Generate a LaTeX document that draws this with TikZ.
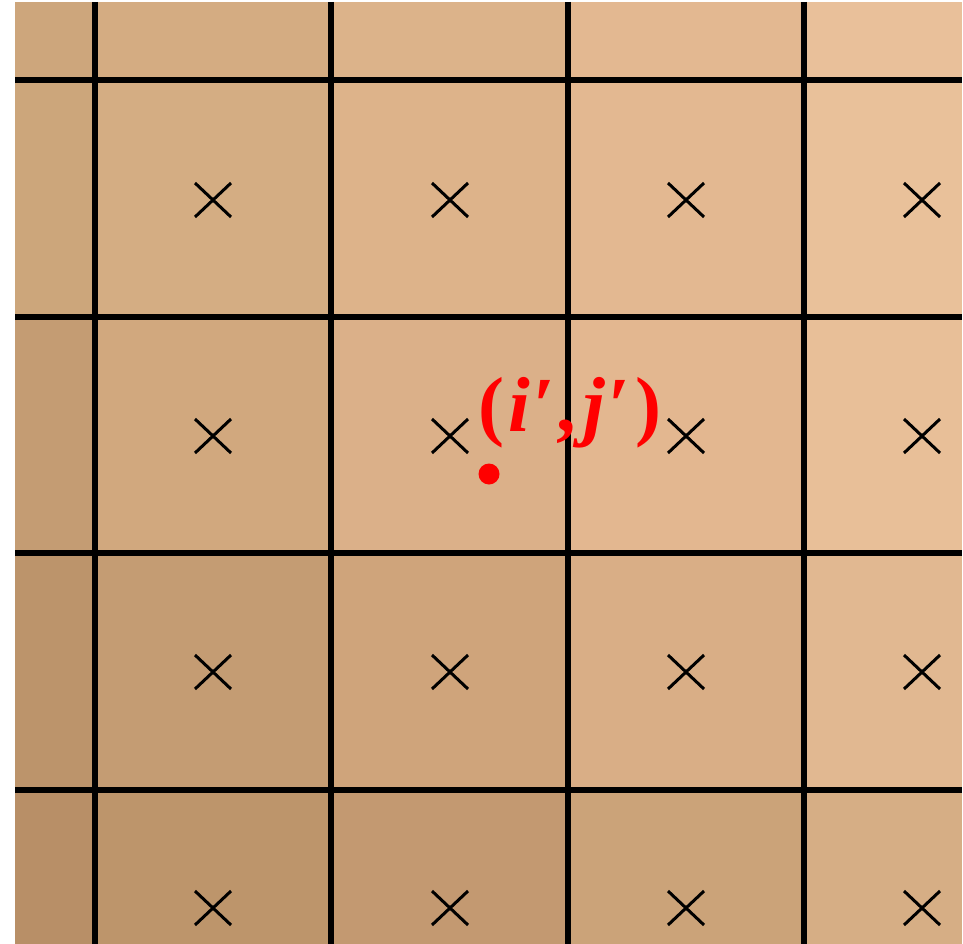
\documentclass[tikz,border=0pt]{standalone}
\usepackage{fontspec}
\setmainfont{Liberation Serif}
\begin{document}
\begin{tikzpicture}[x=1pt,y=-1pt,
  gridline/.style={line width=5.2pt,black},
  crossmark/.style={line width=3pt,black},
  lbl/.style={text=red,inner sep=0pt,font=\fontsize{78}{78}\selectfont\bfseries}]
\useasboundingbox (0,0) rectangle (963,944);
% cell colours
\definecolor{c00}{HTML}{CDA67C}\definecolor{c01}{HTML}{D4AC82}\definecolor{c02}{HTML}{DCB38A}\definecolor{c03}{HTML}{E3B891}\definecolor{c04}{HTML}{E9C09A}
\definecolor{c10}{HTML}{CCA67B}\definecolor{c11}{HTML}{D4AD83}\definecolor{c12}{HTML}{DDB38A}\definecolor{c13}{HTML}{E3B891}\definecolor{c14}{HTML}{E9C19A}
\definecolor{c20}{HTML}{C49C73}\definecolor{c21}{HTML}{D1A87E}\definecolor{c22}{HTML}{DBB089}\definecolor{c23}{HTML}{E3B790}\definecolor{c24}{HTML}{E8BF98}
\definecolor{c30}{HTML}{BC946B}\definecolor{c31}{HTML}{C49C73}\definecolor{c32}{HTML}{CFA47B}\definecolor{c33}{HTML}{D9AE86}\definecolor{c34}{HTML}{E1B891}
\definecolor{c40}{HTML}{B88F67}\definecolor{c41}{HTML}{BD956B}\definecolor{c42}{HTML}{C39971}\definecolor{c43}{HTML}{CBA379}\definecolor{c44}{HTML}{D6AE85}
\def\xs{{15,95,331,568,804,962}}
\def\ys{{2,80,317,553,790,944}}
\foreach \r in {0,...,4}{
  \foreach \c in {0,...,4}{
    \pgfmathsetmacro{\xa}{\xs[\c]}
    \pgfmathsetmacro{\xb}{\xs[\c+1]}
    \pgfmathsetmacro{\ya}{\ys[\r]}
    \pgfmathsetmacro{\yb}{\ys[\r+1]}
    \fill[c\r\c] (\xa,\ya) rectangle (\xb,\yb);
  }
}
% grid lines
\foreach \x in {95,331,568,804}{\draw[gridline] (\x,2) -- (\x,944);}
\foreach \y in {80,317,553,790}{\draw[gridline] (15,\y) -- (962,\y);}
% crosses
\foreach \x in {213,450,686,922}{
  \foreach \y in {200,436,672,908}{
    \draw[crossmark] (\x-18,\y-17) -- (\x+18,\y+17) (\x-18,\y+17) -- (\x+18,\y-17);
  }
}
% point and label
\fill[red] (489,474) circle (10.5);
\node[lbl,anchor=base west] (pt) at (478,431) {(\kern0.06em\textit{i\kern0.03em′}\kern0.02em,\kern0.1em\textit{j\kern0.03em′}\kern0.08em)};
\end{tikzpicture}
\end{document}
